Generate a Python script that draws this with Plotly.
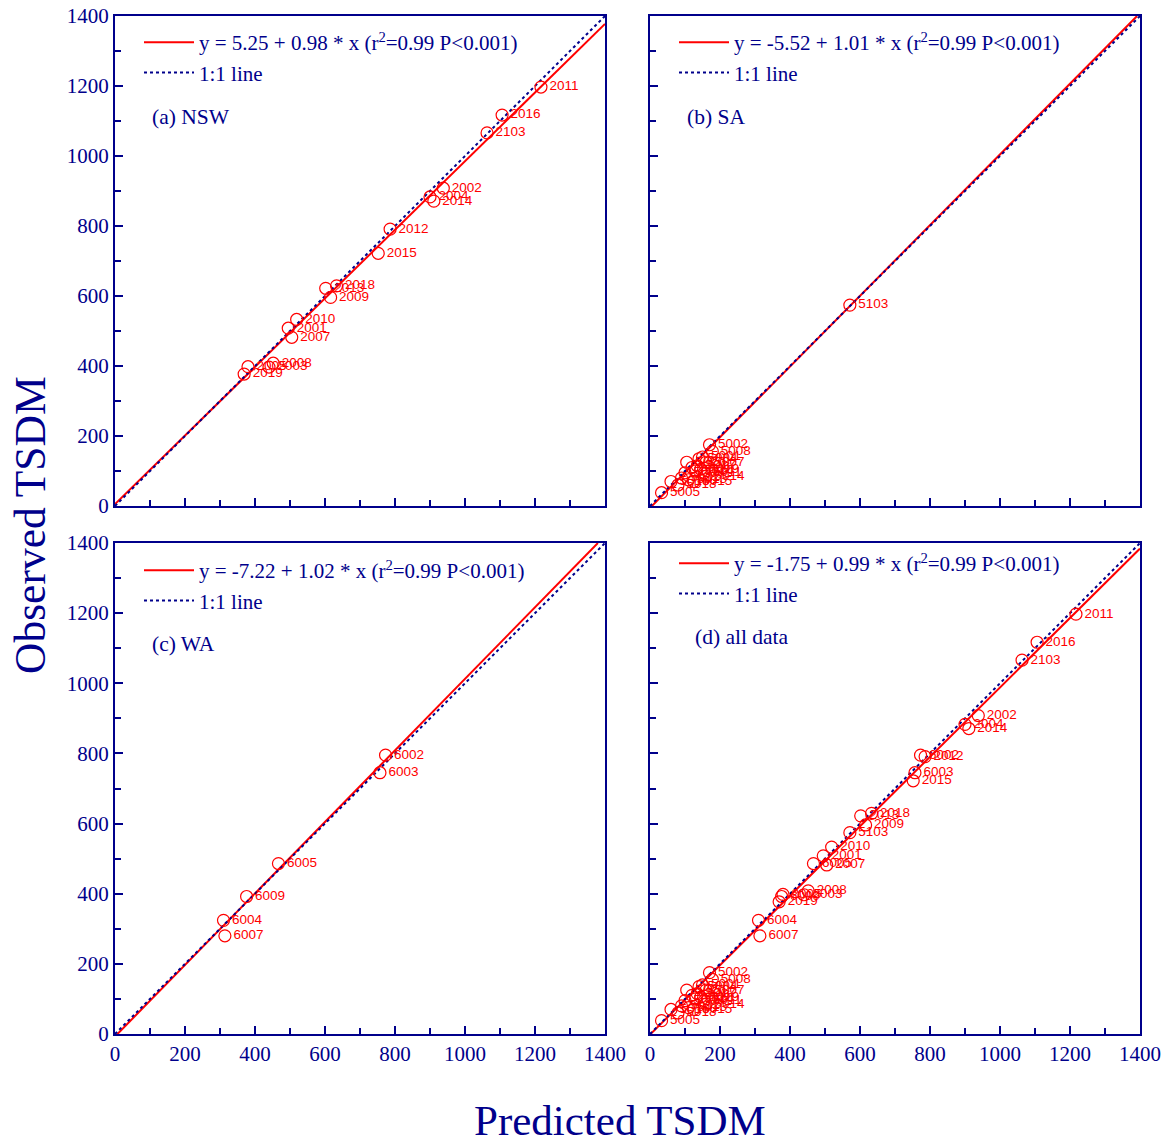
import plotly.graph_objects as go

# ---------------- data ----------------
nsw_labels = ["2001", "2002", "2003", "2004", "2005", "2007", "2008", "2009", "2010",
              "2011", "2012", "2013", "2014", "2015", "2016", "2018", "2019", "2103"]
nsw_pred = [495, 938, 440, 900, 380, 505, 452, 616, 519, 1217, 786, 602, 911, 752, 1106, 633, 369, 1063]
nsw_obs = [508, 908, 397, 883, 398, 482, 408, 596, 533, 1197, 791, 622, 871, 722, 1117, 629, 377, 1066]

sa_labels = ["5001", "5002", "5004", "5005", "5006", "5007", "5008", "5009", "5010", "5011",
             "5012", "5013", "5014", "5015", "5016", "5017", "5018", "5019", "5020", "5103"]
sa_pred = [150, 170, 140, 33, 120, 160, 178, 100, 130, 155, 90, 110, 160, 125, 60, 135, 80, 145, 105, 571]
sa_obs = [140, 175, 135, 38, 110, 125, 156, 95, 100, 95, 80, 75, 85, 70, 70, 115, 60, 105, 125, 574]

wa_labels = ["6002", "6003", "6004", "6005", "6007", "6009"]
wa_pred = [773, 757, 310, 467, 314, 376]
wa_obs = [795, 745, 324, 486, 280, 392]

all_labels = nsw_labels + sa_labels + wa_labels
all_pred = nsw_pred + sa_pred + wa_pred
all_obs = nsw_obs + sa_obs + wa_obs

fit_intercepts = [5.25, -5.52, -7.22, -1.75]
fit_slopes = [0.98, 1.01, 1.02, 0.99]
fit_text = ["y = 5.25 + 0.98 * x (r<sup>2</sup>=0.99 P<0.001)",
            "y = -5.52 + 1.01 * x (r<sup>2</sup>=0.99 P<0.001)",
            "y = -7.22 + 1.02 * x (r<sup>2</sup>=0.99 P<0.001)",
            "y = -1.75 + 0.99 * x (r<sup>2</sup>=0.99 P<0.001)"]
panel_titles = ["(a) NSW", "(b) SA", "(c) WA", "(d) all data"]
one_to_one = [0, 1400]
axis_range = [0, 1400]
tick_vals = [0, 200, 400, 600, 800, 1000, 1200, 1400]

# ---------------- layout ----------------
W, H = 1166, 1143
NAVY = "#00008B"
RED = "#FF0000"
SERIF = "Liberation Serif, Times New Roman, serif"
SANS = "Liberation Sans, Arial, sans-serif"


def px_x(p):
    return p / W


def px_y(p):
    return 1 - p / H


xdoms = [[px_x(115), px_x(605)], [px_x(650), px_x(1140)], [px_x(115), px_x(605)], [px_x(650), px_x(1140)]]
ydoms = [[px_y(506), px_y(16)], [px_y(506), px_y(16)], [px_y(1034), px_y(543)], [px_y(1034), px_y(543)]]

datasets = [(nsw_pred, nsw_obs, nsw_labels), (sa_pred, sa_obs, sa_labels),
            (wa_pred, wa_obs, wa_labels), (all_pred, all_obs, all_labels)]

fig = go.Figure()
layout = dict(width=W, height=H, margin=dict(l=0, r=0, t=0, b=0, autoexpand=False),
              paper_bgcolor="white", plot_bgcolor="white", showlegend=True)

legend_pos = [(139, 22), (674, 22), (139, 550), (674, 543)]

for i, (px, py, lab) in enumerate(datasets):
    k = "" if i == 0 else str(i + 1)
    xa, ya = "x" + k, "y" + k
    lg = "legend" + k
    b, m = fit_intercepts[i], fit_slopes[i]
    x_end = min(axis_range[1], (axis_range[1] - b) / m)
    fx = [axis_range[0], x_end]
    fy = [b + m * v for v in fx]
    fig.add_trace(go.Scatter(x=fx, y=fy, mode="lines", line=dict(color=RED, width=2),
                             name=fit_text[i], xaxis=xa, yaxis=ya, legend=lg))
    fig.add_trace(go.Scatter(x=one_to_one, y=one_to_one, mode="lines",
                             line=dict(color=NAVY, width=2, dash="dot"),
                             name="1:1 line", xaxis=xa, yaxis=ya, legend=lg))
    fig.add_trace(go.Scatter(x=px, y=py, mode="markers+text", text=lab,
                             textposition="middle right",
                             textfont=dict(family=SANS, size=13.5, color=RED),
                             marker=dict(symbol="circle-open", size=12, color=RED,
                                         line=dict(width=1.2, color=RED)),
                             showlegend=False, xaxis=xa, yaxis=ya, cliponaxis=True))

    axcommon = dict(range=axis_range, showgrid=False, zeroline=False, showline=True,
                    linecolor=NAVY, linewidth=2, mirror=True, ticks="inside",
                    tickcolor=NAVY, tickwidth=2, ticklen=8, tickvals=tick_vals,
                    ticklabeloverflow="allow",
                    tickfont=dict(family=SERIF, size=21, color=NAVY),
                    minor=dict(dtick=100, ticks="inside", ticklen=6, tickcolor=NAVY, tickwidth=2))
    xaxis = dict(axcommon, domain=xdoms[i], anchor=ya, showticklabels=(i >= 2))
    yaxis = dict(axcommon, domain=ydoms[i], anchor=xa, showticklabels=(i % 2 == 0))
    layout["xaxis" + k] = xaxis
    layout["yaxis" + k] = yaxis
    lx, ly = legend_pos[i]
    layout[lg] = dict(x=px_x(lx), y=px_y(ly), xanchor="left", yanchor="top",
                      bgcolor="rgba(0,0,0,0)", borderwidth=0, tracegroupgap=0,
                      itemwidth=50,
                      font=dict(family=SERIF, size=21, color=NAVY))

annotations = []
title_pos = [(150, 117), (685, 117), (150, 644), (693, 637)]
for i, t in enumerate(panel_titles):
    x0, y0 = title_pos[i]
    annotations.append(dict(text=t, x=px_x(x0), y=px_y(y0), xref="paper", yref="paper",
                            xanchor="left", yanchor="middle", showarrow=False,
                            font=dict(family=SERIF, size=21.5, color=NAVY)))
annotations.append(dict(text="Observed TSDM", x=px_x(30), y=px_y(525), xref="paper", yref="paper",
                        textangle=-90, showarrow=False, xanchor="center", yanchor="middle",
                        font=dict(family=SERIF, size=43.5, color=NAVY)))
annotations.append(dict(text="Predicted TSDM", x=px_x(620), y=px_y(1120), xref="paper", yref="paper",
                        showarrow=False, xanchor="center", yanchor="middle",
                        font=dict(family=SERIF, size=43, color=NAVY)))
layout["annotations"] = annotations

fig.update_layout(**layout)
fig.write_html("out.html", config={"displayModeBar": False},
               post_script="document.body.style.margin='0px';")
